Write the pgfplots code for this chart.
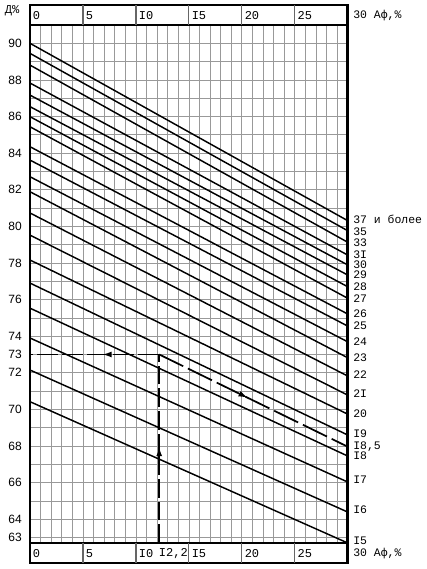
\documentclass[border=0pt]{standalone}
\usepackage{fontspec}
\setmainfont{Liberation Sans}
\newfontfamily\mono{Liberation Mono}
\usepackage{pgfplots}
\pgfplotsset{compat=1.18}
\usetikzlibrary{decorations.markings,arrows.meta}
\tikzset{
  rlab/.style={anchor=west, inner sep=0pt, xshift=4pt, font=\mono\fontsize{8.6}{8.6}\selectfont},
  slab/.style={anchor=west, inner sep=0pt, xshift=2pt, font=\mono\fontsize{9}{9}\selectfont},
  nomo/.style={black, solid, line width=1.1pt, mark=none},
}

\begin{document}
\begin{tikzpicture}
\path[use as bounding box] (-22.5pt,-19.5pt) rectangle (297.75pt,407.25pt);
\begin{axis}[
  at={(0,0)}, anchor=south west,
  scale only axis, width=238.3pt, height=388.5pt,
  xmin=0, xmax=30, ymin=62.7, ymax=91,
  clip=false,
  axis line style={draw=none},
  xtick={1,...,29}, xticklabels={},
  ytick={63,...,90},
  yticklabels={63,64,{},66,{},68,{},70,{},72,73,74,{},76,{},78,{},80,{},82,{},84,{},86,{},88,{},90},
  grid=major, major grid style={black!40, line width=0.5pt},
  major tick length=0pt,
  yticklabel style={font=\fontsize{9}{9}\selectfont, anchor=east, inner sep=0pt, xshift=-6pt},
  /pgf/number format/assume math mode=true,
]
% nomogram lines (left value at Af=0, right value at Af=30)
\addplot[nomo] coordinates {(0,90.00) (30,80.31)}; % 37 and more
\addplot[nomo] coordinates {(0,89.45) (30,79.76)}; % 35
\addplot[nomo] coordinates {(0,88.81) (30,79.13)}; % 33
\addplot[nomo] coordinates {(0,87.83) (30,78.43)}; % 31
\addplot[nomo] coordinates {(0,87.17) (30,77.89)}; % 30
\addplot[nomo] coordinates {(0,86.54) (30,77.34)}; % 29
\addplot[nomo] coordinates {(0,85.99) (30,76.70)}; % 28
\addplot[nomo] coordinates {(0,85.44) (30,76.07)}; % 27
\addplot[nomo] coordinates {(0,84.35) (30,75.21)}; % 26
\addplot[nomo] coordinates {(0,83.62) (30,74.55)}; % 25
\addplot[nomo] coordinates {(0,82.71) (30,73.69)}; % 24
\addplot[nomo] coordinates {(0,81.89) (30,72.82)}; % 23
\addplot[nomo] coordinates {(0,80.73) (30,71.82)}; % 22
\addplot[nomo] coordinates {(0,79.52) (30,70.78)}; % 21
\addplot[nomo] coordinates {(0,78.16) (30,69.74)}; % 20
\addplot[nomo] coordinates {(0,76.90) (30,68.60)}; % 19
\addplot[nomo] coordinates {(0,75.53) (30,67.45)}; % 18
\addplot[nomo] coordinates {(0,73.90) (30,66.03)}; % 17
\addplot[nomo] coordinates {(0,72.15) (30,64.39)}; % 16
\addplot[nomo] coordinates {(0,70.42) (30,62.70)}; % 15

% worked example (dashed)
\addplot[black, line width=1.3pt, dash pattern=on 14pt off 3pt, postaction={decorate},
  decoration={markings, mark=at position 0.51 with {\arrow[solid]{Latex[length=7pt,width=4.5pt]}}}]
  coordinates {(12.2,62.7) (12.2,73)};
\addplot[black, line width=1.3pt, dash pattern=on 16pt off 3pt, postaction={decorate},
  decoration={markings, mark=at position 0.44 with {\arrow[solid]{Latex[length=7pt,width=4.5pt]}}}]
  coordinates {(12.2,73) (0,73)};
\addplot[black, line width=1.3pt, dash pattern=on 20pt off 4pt, postaction={decorate},
  decoration={markings, mark=at position 0.47 with {\arrow[solid]{Latex[length=7pt,width=4.5pt]}}}]
  coordinates {(12.2,73) (30,67.96)};

% frame and strips
\draw[line width=2pt] (axis cs:0,61.61) rectangle (axis cs:30,92.09);
\draw[line width=1.2pt] (axis cs:0,91) -- (axis cs:30,91);
\draw[line width=1.2pt] (axis cs:0,62.7) -- (axis cs:30,62.7);
\pgfplotsinvokeforeach{5,10,15,20,25}{
  \draw[black!60, line width=0.9pt] (axis cs:#1,91) -- (axis cs:#1,92.09);
  \draw[black!60, line width=0.9pt] (axis cs:#1,62.7) -- (axis cs:#1,61.61);
}
% top strip labels
\node[slab] at (axis cs:0,91.5) {0};
\node[slab] at (axis cs:5,91.5) {5};
\node[slab] at (axis cs:10,91.5) {I0};
\node[slab] at (axis cs:15,91.5) {I5};
\node[slab] at (axis cs:20,91.5) {20};
\node[slab] at (axis cs:25,91.5) {25};
\node[rlab] at (axis cs:30,91.5) {30 Аф,\%};
% bottom strip labels
\node[slab] at (axis cs:0,62.12) {0};
\node[slab] at (axis cs:5,62.12) {5};
\node[slab] at (axis cs:10,62.12) {I0};
\node[slab] at (axis cs:11.9,62.12) {I2,2};
\node[slab] at (axis cs:15,62.12) {I5};
\node[slab] at (axis cs:20,62.12) {20};
\node[slab] at (axis cs:25,62.12) {25};
\node[rlab] at (axis cs:30,62.12) {30 Аф,\%};
% y title
\node[anchor=west, inner sep=0pt, font=\mono\fontsize{9}{9}\selectfont] at (axis cs:-2.4,91.77) {Д\%};
% right labels
\node[rlab] at (axis cs:30,80.36) {37 и более};
\node[rlab] at (axis cs:30,79.72) {35};
\node[rlab] at (axis cs:30,79.10) {33};
\node[rlab] at (axis cs:30,78.43) {3I};
\node[rlab] at (axis cs:30,77.89) {30};
\node[rlab] at (axis cs:30,77.34) {29};
\node[rlab] at (axis cs:30,76.70) {28};
\node[rlab] at (axis cs:30,76.07) {27};
\node[rlab] at (axis cs:30,75.21) {26};
\node[rlab] at (axis cs:30,74.55) {25};
\node[rlab] at (axis cs:30,73.69) {24};
\node[rlab] at (axis cs:30,72.82) {23};
\node[rlab] at (axis cs:30,71.91) {22};
\node[rlab] at (axis cs:30,70.87) {2I};
\node[rlab] at (axis cs:30,69.78) {20};
\node[rlab] at (axis cs:30,68.69) {I9};
\node[rlab] at (axis cs:30,67.96) {I8,5};
\node[rlab] at (axis cs:30,67.45) {I8};
\node[rlab] at (axis cs:30,66.14) {I7};
\node[rlab] at (axis cs:30,64.50) {I6};
\node[rlab] at (axis cs:30,62.80) {I5};
\end{axis}
\end{tikzpicture}
\end{document}
